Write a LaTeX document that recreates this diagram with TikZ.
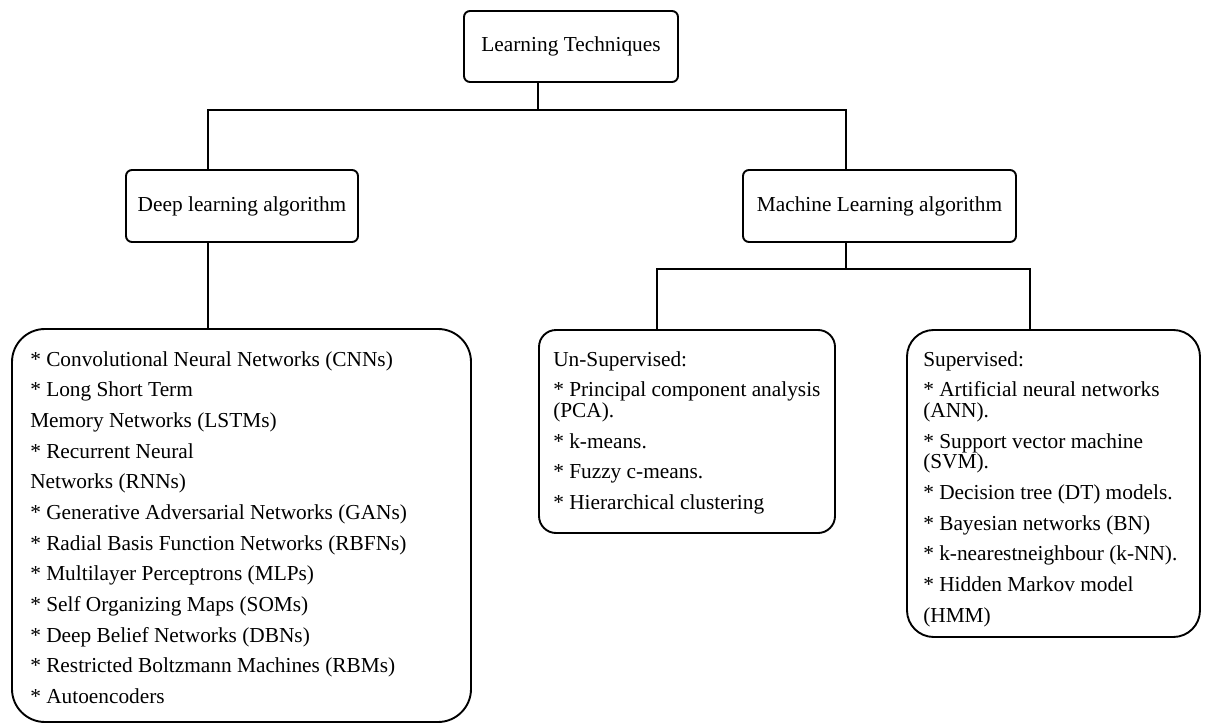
\documentclass[tikz,border=0pt]{standalone}
\usepackage{fontspec}
\setmainfont{Liberation Serif}
\usetikzlibrary{calc}

\tikzset{
	box/.style={draw, line width=0.5mm, rounded corners=4.5pt, inner sep=0pt, font=\fontsize{16}{23}\selectfont},
	bigbox/.style={draw, line width=0.5mm, inner sep=0pt},
	conn/.style={line width=0.5mm},
	list/.style={anchor=north west, inner sep=0pt, align=left, font=\fontsize{16}{23}\selectfont}
}

\begin{document}
\begin{tikzpicture}[x=0.75pt, y=-0.75pt]
			%%%%% START %%%%%
			\useasboundingbox (0, 0) rectangle (1211, 724);
			
			% heads
			\node[box, minimum width=160.5pt, minimum height=53.25pt] (top) at (571, 46.5) {Learning Techniques};
			\node[box, minimum width=174pt, minimum height=54pt] (dl) at (242, 206) {Deep learning algorithm};
			\node[box, minimum width=204.75pt, minimum height=54pt] (ml) at (879.5, 206) {Machine Learning algorithm};
			
			% lists
			\node[bigbox, rounded corners=24.75pt, minimum width=344.25pt, minimum height=294.75pt] (deep) at (241.5, 525.5) {};
			\node[bigbox, rounded corners=12.75pt, minimum width=222pt, minimum height=152.25pt] (unsup) at (687, 431.5) {};
			\node[bigbox, rounded corners=20pt, minimum width=219.75pt, minimum height=230.25pt] (sup) at (1053.5, 483.5) {};
			
			\node[list] (deeptext) at (30, 344.5) {\strut* Convolutional Neural Networks (CNNs)\\
				* Long Short Term\\
				Memory Networks (LSTMs)\\
				* Recurrent Neural\\
				Networks (RNNs)\\
				* Generative Adversarial Networks (GANs)\\
				* Radial Basis Function Networks (RBFNs)\\
				* Multilayer Perceptrons (MLPs)\\
				* Self Organizing Maps (SOMs)\\
				* Deep Belief Networks (DBNs)\\
				* Restricted Boltzmann Machines (RBMs)\\
				* Autoencoders};
			\node[list] (unsuptext) at (553, 344.5) {\strut Un-Supervised:\\
				* Principal component analysis\\[-7.5pt]
				(PCA).\\
				* k-means.\\
				* Fuzzy c-means.\\
				* Hierarchical clustering};
			\node[list] (suptext) at (923, 344.5) {\strut Supervised:\\
				* Artificial neural networks\\[-7.5pt]
				(ANN).\\
				* Support vector machine\\[-7.5pt]
				(SVM).\\
				* Decision tree (DT) models.\\
				* Bayesian networks (BN)\\
				* k-nearestneighbour (k-NN).\\
				* Hidden Markov model\\
				(HMM)};
			
			% tree
			\coordinate (bus) at (538, 110);
			\coordinate (dlx) at (208, 110);
			\coordinate (mlx) at (846, 110);
			\coordinate (ulx) at (657, 269);
			\coordinate (supx) at (1030, 269);
			
			\draw[conn] (bus |- top.south) -- (bus);
			\draw[conn] (dlx |- dl.north) -- (dlx) -- (mlx) -- (mlx |- ml.north);
			\draw[conn] (dlx |- dl.south) -- (dlx |- deep.north);
			\draw[conn] (mlx |- ml.south) -- (mlx |- ulx);
			\draw[conn] (ulx |- unsup.north) -- (ulx) -- (supx) -- (supx |- sup.north);
			
			%%%%% END %%%%%
\end{tikzpicture}
\end{document}
